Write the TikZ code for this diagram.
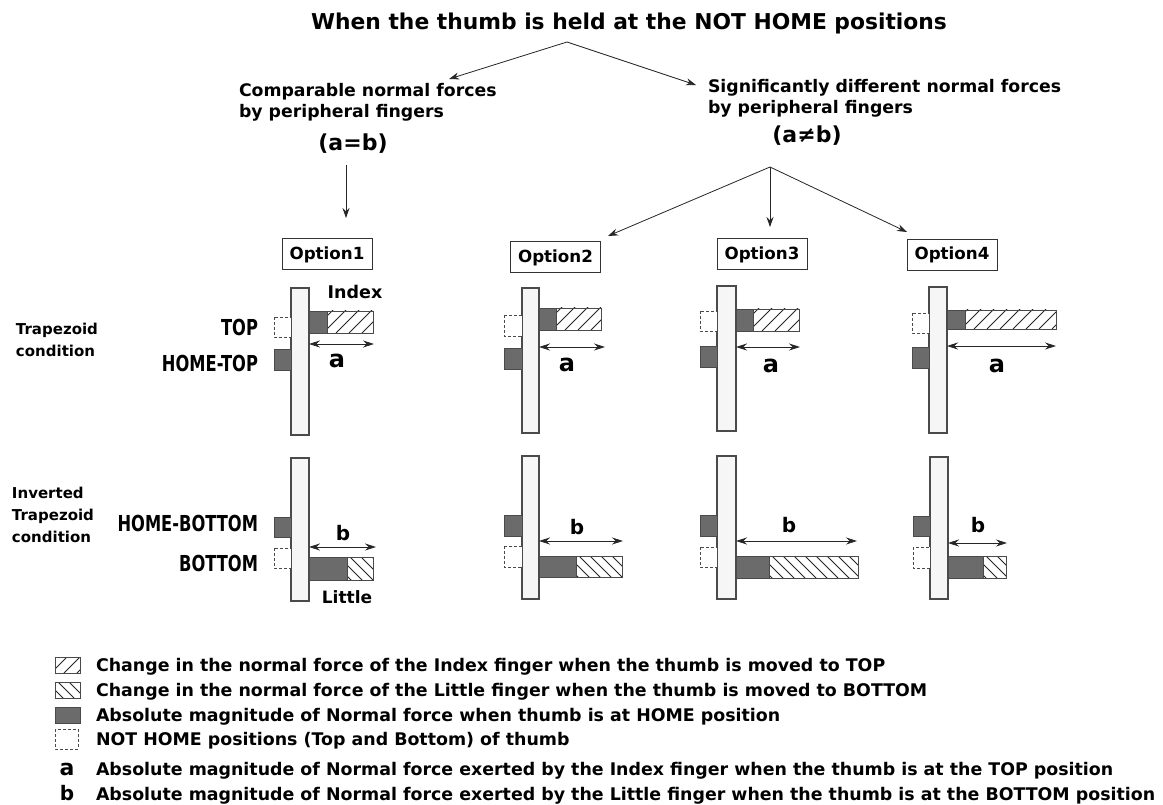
\documentclass[tikz,border=0pt]{standalone}
\usepackage{fontspec}
\usepackage{graphicx}
\setmainfont{DejaVu Sans}
\usetikzlibrary{arrows.meta}

\definecolor{darkbar}{HTML}{6B6B6B}
\definecolor{platefill}{HTML}{F6F6F6}
\definecolor{edgecol}{HTML}{4A4A4A}

\tikzset{
  txt/.style={inner sep=0pt, outer sep=0pt, font=\bfseries},
  plate/.style={draw=edgecol, fill=platefill, line width=1.1pt},
  darkbox/.style={draw=edgecol, fill=darkbar, line width=0.8pt},
  thumbdash/.style={draw=edgecol, dash pattern=on 3pt off 2pt, fill=white, line width=0.8pt},
  hatchframe/.style={draw=edgecol, line width=0.9pt},
  hline/.style={line width=0.9pt, black!85},
  flow/.style={draw=black!85, line width=0.8pt, -{Stealth[length=10pt,width=7pt]}},
  dimarrow/.style={draw=black!85, line width=0.8pt, {Stealth[length=11pt,width=7pt]}-{Stealth[length=11pt,width=7pt]}},
  optbox/.style={draw=black!80, line width=1pt, fill=white, inner sep=0pt,
    minimum width=90pt, minimum height=31pt, font=\bfseries\fontsize{16.7}{18}\selectfont},
  sidelbl/.style={txt, font=\bfseries\fontsize{22}{24}\selectfont, anchor=base east},
  condlbl/.style={txt, font=\bfseries\fontsize{15}{17}\selectfont, anchor=base west},
  legtxt/.style={txt, font=\bfseries\fontsize{17.4}{19}\selectfont, anchor=base west},
  heading/.style={txt, font=\bfseries\fontsize{17.3}{19}\selectfont, anchor=base west},
  albl/.style={txt, font=\bfseries\fontsize{24}{26}\selectfont},
  blbl/.style={txt, font=\bfseries\fontsize{20}{22}\selectfont},
}

% "/" hatched bar: x1 y1 x2 y2 (y grows downward)
\newcommand\hatchfwd[4]{%
  \begin{scope}
    \clip (#1,#2) rectangle (#3,#4);
    \foreach \k in {-30,-17,...,130}{\draw[hline] ({#1+\k},#4) -- ++(30,-30);}
  \end{scope}
  \draw[hatchframe] (#1,#2) rectangle (#3,#4);}
% "\" hatched bar
\newcommand\hatchbwd[4]{%
  \begin{scope}
    \clip (#1,#2) rectangle (#3,#4);
    \foreach \k in {-30,-19,...,130}{\draw[hline] ({#1+\k},#2) -- ++(30,30);}
  \end{scope}
  \draw[hatchframe] (#1,#2) rectangle (#3,#4);}
\newcommand\narrow[1]{\scalebox{0.74}[1]{#1}}

\begin{document}
\begin{tikzpicture}[x=1pt,y=-1pt]
\useasboundingbox[fill=white] (0,0) rectangle (1163,805);

% ---------- headings ----------
\node[txt, font=\bfseries\fontsize{21.8}{24}\selectfont, anchor=base] (title) at (629,30)
  {When the thumb is held at the NOT HOME positions};
\node[heading] (cmpA) at (239,97) {Comparable normal forces};
\node[heading] (cmpB) at (239,118) {by peripheral fingers};
\node[txt, font=\bfseries\fontsize{22}{24}\selectfont] (eq) at (353,144) {(a=b)};
\node[heading] (difA) at (708,93) {Significantly different normal forces};
\node[heading] (difB) at (708,114) {by peripheral fingers};
\node[txt, font=\bfseries\fontsize{22}{24}\selectfont] (neq) at (807,136) {(a≠b)};

\coordinate (apexTop) at (567,42);
\coordinate (tipL) at (449,79);
\coordinate (tipR) at (696,85);
\draw[flow] (apexTop) -- (tipL);
\draw[flow] (apexTop) -- (tipR);

\coordinate (eqfoot) at (346,165);
\coordinate (o1tip) at (346,218);
\draw[flow] (eqfoot) -- (o1tip);

\coordinate (apexR) at (770,167);
\coordinate (o2tip) at (608,236);
\coordinate (o3tip) at (770,227);
\coordinate (o4tip) at (907,232);
\draw[flow] (apexR) -- (o2tip);
\draw[flow] (apexR) -- (o3tip);
\draw[flow] (apexR) -- (o4tip);

% ---------- option boxes ----------
\node[optbox] (o1) at (327,254.5) {Option1};
\node[optbox] (o2) at (555.5,257.5) {Option2};
\node[optbox] (o3) at (762,254.5) {Option3};
\node[optbox] (o4) at (952,255) {Option4};

% ---------- row labels ----------
\node[condlbl] (trA) at (16,334.5) {Trapezoid};
\node[condlbl] (trB) at (16,356.5) {condition};
\node[condlbl] (itA) at (12,498.5) {Inverted};
\node[condlbl] (itB) at (12,520.5) {Trapezoid};
\node[condlbl] (itC) at (12,542.5) {condition};

\node[sidelbl] (ltop) at (258,336) {\narrow{TOP}};
\node[sidelbl] (lhtop) at (258,371) {\narrow{HOME-TOP}};
\node[sidelbl] (lhbot) at (258,531) {\narrow{HOME-BOTTOM}};
\node[sidelbl] (lbot) at (258,571) {\narrow{BOTTOM}};

% ---------- Option 1 ----------
\draw[plate] (291,288) rectangle (309,435);
\draw[thumbdash] (274,317) rectangle (291,337);
\draw[darkbox] (274,349) rectangle (291,370);
\draw[darkbox] (309,311) rectangle (327,333);
\hatchfwd{327}{311}{373}{333}
\draw[dimarrow] (309,344) -- (374,344);
\node[albl] (a1) at (337,361) {a};
\node[txt, font=\bfseries\fontsize{17.5}{19}\selectfont] (idx) at (355,292) {Index};

\draw[plate] (291,458) rectangle (309,601);
\draw[darkbox] (274,517) rectangle (291,537);
\draw[thumbdash] (274,548) rectangle (291,568);
\draw[darkbox] (309,557) rectangle (347,580);
\hatchbwd{347}{557}{373}{580}
\draw[dimarrow] (309,547) -- (376,547);
\node[blbl] (b1) at (343,533) {b};
\node[txt, font=\bfseries\fontsize{17}{19}\selectfont] (lit) at (347,597) {Little};

% ---------- Option 2 ----------
\draw[plate] (522,288) rectangle (539,433);
\draw[thumbdash] (504,315) rectangle (522,336);
\draw[darkbox] (504,348) rectangle (522,369);
\draw[darkbox] (539,308) rectangle (556,330);
\hatchfwd{556}{308}{601}{330}
\draw[dimarrow] (539,347) -- (605,347);
\node[albl] (a2) at (567,365) {a};

\draw[plate] (522,456) rectangle (539,599);
\draw[darkbox] (504,515) rectangle (522,536);
\draw[thumbdash] (504,546) rectangle (522,567);
\draw[darkbox] (539,556) rectangle (576,577);
\hatchbwd{576}{556}{622}{577}
\draw[dimarrow] (539,541) -- (623,541);
\node[blbl] (b2) at (577,527) {b};

% ---------- Option 3 ----------
\draw[plate] (717,286) rectangle (736,431);
\draw[thumbdash] (700,311) rectangle (717,331);
\draw[darkbox] (700,346) rectangle (717,367);
\draw[darkbox] (736,309) rectangle (753,331);
\hatchfwd{753}{309}{799}{331}
\draw[dimarrow] (736,347) -- (800,347);
\node[albl] (a3) at (771,366) {a};

\draw[plate] (717,456) rectangle (736,599);
\draw[darkbox] (700,515) rectangle (717,536);
\draw[thumbdash] (700,547) rectangle (717,567);
\draw[darkbox] (736,556) rectangle (769,578);
\hatchbwd{769}{556}{858}{578}
\draw[dimarrow] (736,541) -- (857,541);
\node[blbl] (b3) at (789,525) {b};

% ---------- Option 4 ----------
\draw[plate] (929,287) rectangle (947,433);
\draw[thumbdash] (912,313) rectangle (929,333);
\draw[darkbox] (912,347) rectangle (929,368);
\draw[darkbox] (947,310) rectangle (965,329);
\hatchfwd{965}{310}{1056}{329}
\draw[dimarrow] (947,346) -- (1056,346);
\node[albl] (a4) at (997,366) {a};

\draw[plate] (930,457) rectangle (948,599);
\draw[darkbox] (913,516) rectangle (930,536);
\draw[thumbdash] (913,547) rectangle (930,568);
\draw[darkbox] (948,556) rectangle (983,578);
\hatchbwd{983}{556}{1006}{578}
\draw[dimarrow] (948,543) -- (1007,543);
\node[blbl] (b4) at (978,525) {b};

% ---------- legend ----------
\hatchfwd{55}{657}{80}{673}
\hatchbwd{55}{682}{80}{698}
\draw[darkbox] (55,707) rectangle (80,723);
\draw[thumbdash] (55,729) rectangle (78,749);
\node[txt, font=\bfseries\fontsize{22}{24}\selectfont, anchor=base] (la) at (67,775) {a};
\node[txt, font=\bfseries\fontsize{20}{22}\selectfont, anchor=base] (lb) at (67,800) {b};

\node[legtxt] (l1) at (96,671) {Change in the normal force of the Index finger when the thumb is moved to TOP};
\node[legtxt] (l2) at (96,696) {Change in the normal force of the Little finger when the thumb is moved to BOTTOM};
\node[legtxt] (l3) at (96,721) {Absolute magnitude of Normal force when thumb is at HOME position};
\node[legtxt] (l4) at (96,745) {NOT HOME positions (Top and Bottom) of thumb};
\node[legtxt] (l5) at (96,775) {Absolute magnitude of Normal force exerted by the Index finger when the thumb is at the TOP position};
\node[legtxt] (l6) at (96,800) {Absolute magnitude of Normal force exerted by the Little finger when the thumb is at the BOTTOM position};
\end{tikzpicture}
\end{document}
